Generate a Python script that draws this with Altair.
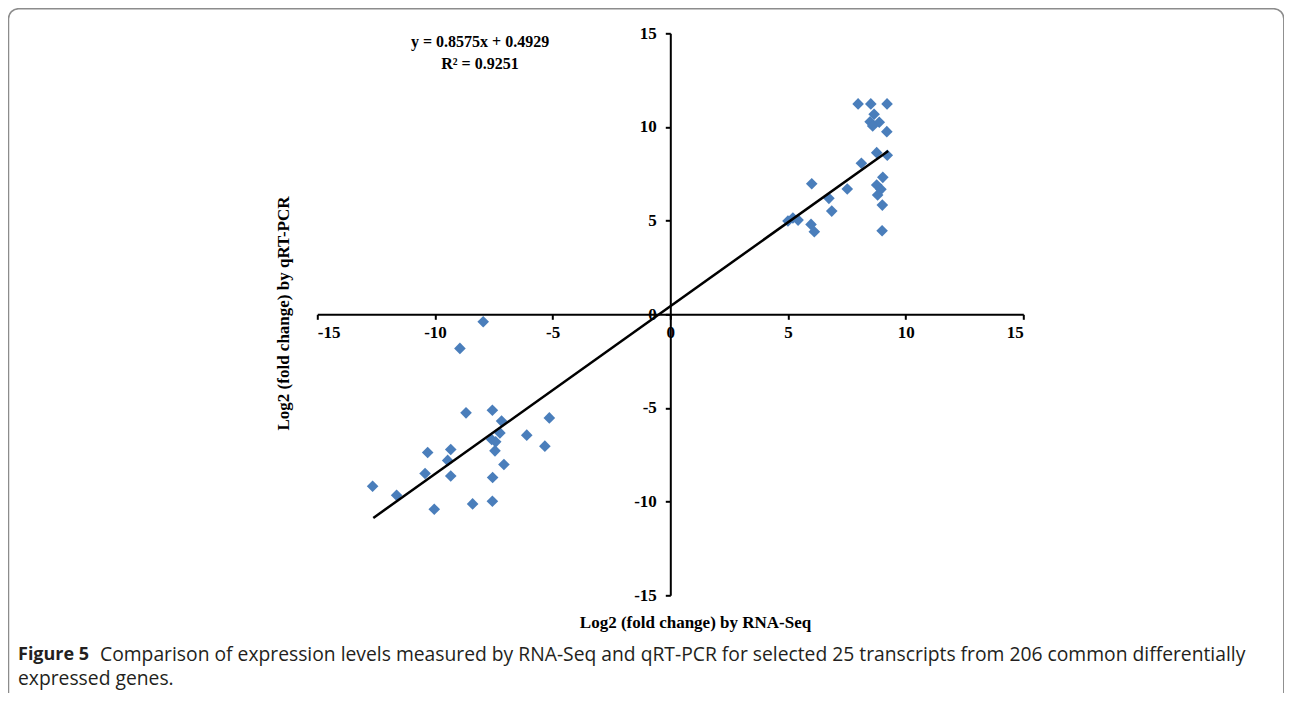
import altair as alt
import pandas as pd

# ---- data ----
rna_seq = [7.98, 8.52, 9.21, 8.66, 8.49, 8.88, 8.60, 9.20, 8.77, 9.22, 8.12, 6.01, 7.52,
           9.03, 8.77, 8.95, 8.81, 6.74, 6.86, 9.01, 5.00, 5.21, 5.43, 5.98, 6.12, 9.00,
           -8.68, -7.56, -7.17, -5.14, -7.24, -7.59, -7.42, -6.10, -10.31, -9.33, -9.46,
           -7.45, -5.33, -7.07, -10.42, -9.33, -7.55, -12.65, -11.63, -10.03, -8.40, -7.56,
           -7.95, -8.94]
qrt_pcr = [11.23, 11.23, 11.23, 10.68, 10.28, 10.25, 10.05, 9.75, 8.63, 8.49, 8.06, 6.97, 6.69,
           7.31, 6.90, 6.67, 6.37, 6.19, 5.51, 5.83, 4.98, 5.14, 5.03, 4.80, 4.41, 4.46,
           -5.26, -5.12, -5.70, -5.53, -6.33, -6.68, -6.81, -6.45, -7.38, -7.22, -7.80,
           -7.29, -7.04, -8.02, -8.50, -8.63, -8.71, -9.18, -9.66, -10.41, -10.12, -9.98,
           -0.40, -1.82]
trend_x = [-12.62, 9.26]
trend_y = [-10.87, 8.72]
axis_ticks = [-15, -10, -5, 0, 5, 10, 15]
equation_line1 = "y = 0.8575x + 0.4929"
equation_line2 = "R² = 0.9251"
x_title = "Log2 (fold change) by RNA-Seq"
y_title = "Log2 (fold change) by qRT-PCR"
caption_bold = "Figure 5"
caption_line1 = ("Comparison of expression levels measured by RNA-Seq and qRT-PCR for selected "
                 "25 transcripts from 206 common differentially")
caption_line2 = "expressed genes."

W, H = 706, 562
SERIF = "Liberation Serif"
CAP_FONT = "Open Sans"
CAP_SIZE = 19.3

pts = pd.DataFrame({"x": rna_seq, "y": qrt_pcr})
trend = pd.DataFrame({"x": trend_x, "y": trend_y})

sx = alt.Scale(domain=[-15, 15], nice=False, zero=False)
sy = alt.Scale(domain=[-15, 15], nice=False, zero=False)

common_axis = dict(
    values=axis_ticks, grid=False, domainColor="black", domainWidth=2,
    tickColor="black", tickWidth=2, tickSize=5,
    labelExpr="toString(datum.value)",
    labelFont=SERIF, labelFontWeight="bold", labelFontSize=17, labelColor="black",
    titleFont=SERIF, titleFontWeight="bold", titleFontSize=17, titleColor="black",
)

X = alt.X("x:Q", scale=sx, title=x_title,
          axis=alt.Axis(orient="bottom", offset=-281, labelPadding=5,
                        titleX=377.7, titleY=307.8, titleAlign="center",
                        titleBaseline="middle", titleAngle=0, **common_axis))
Y = alt.Y("y:Q", scale=sy, title=y_title,
          axis=alt.Axis(orient="left", offset=-353, labelPadding=9,
                        titleX=-387.3, titleY=279.7, titleAlign="center",
                        titleBaseline="middle", titleAngle=270, **common_axis))

points = alt.Chart(pts).mark_point(
    shape="diamond", filled=True, size=135, color="#4a7ebb", opacity=1
).encode(x=X, y=Y)

line = alt.Chart(trend).mark_line(color="black", strokeWidth=2.5).encode(x=X, y=Y)


def text_layer(t, x, y, **kw):
    return alt.Chart(alt.Data(values=[{"t": t}])).mark_text(**kw).encode(
        x=alt.value(x), y=alt.value(y), text="t:N")


eq1 = text_layer(equation_line1, 162.7, 8.5, font=SERIF, fontWeight="bold", fontSize=16,
                 color="black", align="center", baseline="middle")
eq2 = text_layer(equation_line2, 162.7, 30.5, font=SERIF, fontWeight="bold", fontSize=16,
                 color="black", align="center", baseline="middle")

border = alt.Chart(alt.Data(values=[{}])).mark_rect(
    fill="white", fillOpacity=0, stroke="#8c8c8c", strokeWidth=1.5, cornerRadius=10
).encode(x=alt.value(-308.8), x2=alt.value(966.5), y=alt.value(-24.6), y2=alt.value(700))

cap_bold = text_layer(caption_bold, -299.3, 621.5, font=CAP_FONT, fontWeight="bold",
                      fontSize=18, color="#231f20", align="left", baseline="middle")
cap_1 = text_layer(caption_line1, -217.3, 621.5, font=CAP_FONT, fontSize=CAP_SIZE,
                   color="#231f20", align="left", baseline="middle")
cap_2 = text_layer(caption_line2, -299.3, 645.5, font=CAP_FONT, fontSize=CAP_SIZE,
                   color="#231f20", align="left", baseline="middle")

chart = alt.layer(border, points, line, eq1, eq2, cap_bold, cap_1, cap_2).properties(
    width=W, height=H,
    background="white",
    autosize=alt.AutoSizeParams(type="none"),
    padding={"left": 309.3, "top": 25.3, "right": 260.7, "bottom": 97.7},
).configure_view(stroke=None, strokeWidth=0)

chart.save("out.html", embed_options={"renderer": "svg", "actions": False})
